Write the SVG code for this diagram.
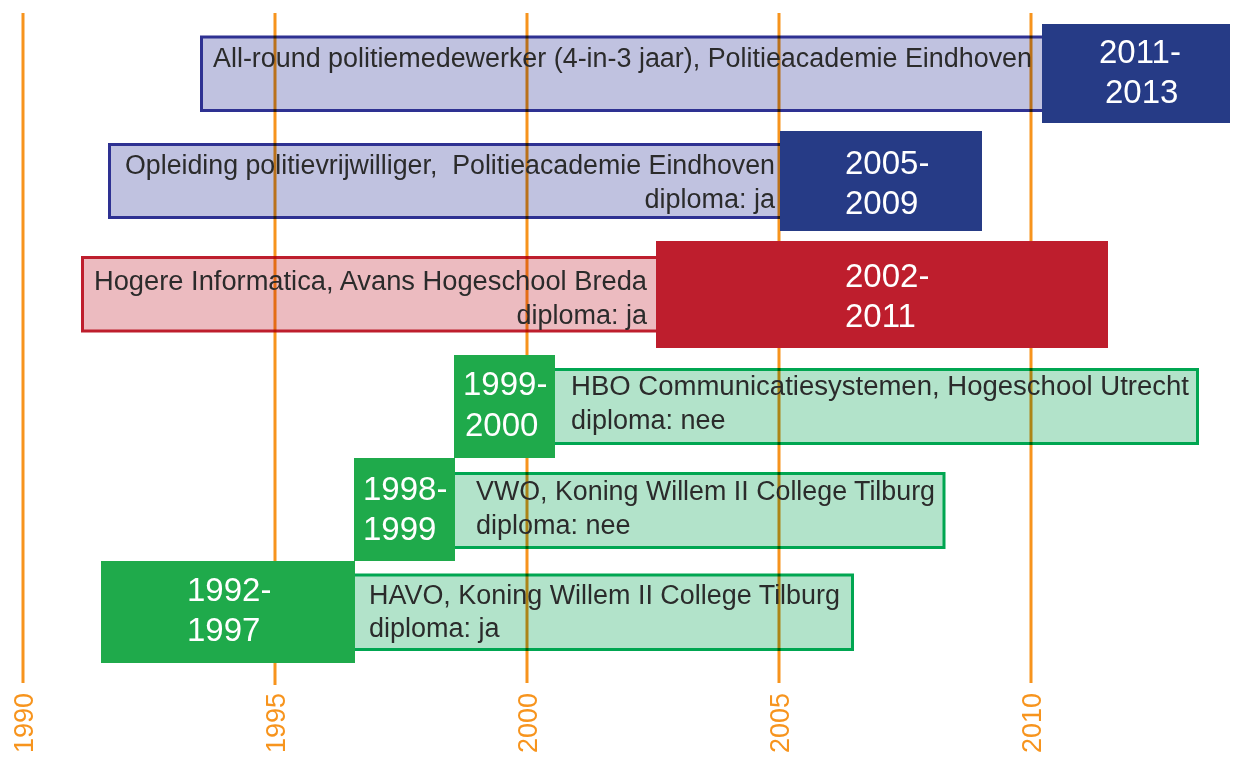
<svg xmlns="http://www.w3.org/2000/svg" width="1245" height="757" viewBox="0 0 1245 757">
<style>
.axis{stroke:#f7941d;stroke-width:3;fill:none}
.yl{font-family:"Liberation Sans",Arial,sans-serif;font-size:27px;fill:#f7941d}
.lt{font-family:"Liberation Sans",Arial,sans-serif;font-size:27px;fill:#2b2b2b}
.dk{font-family:"Liberation Sans",Arial,sans-serif;font-size:33px;fill:#ffffff}
.lb{fill:#c0c2e0;stroke:#2e3192;stroke-width:3;mix-blend-mode:multiply}
.lr{fill:#ecbbc0;stroke:#be1e2d;stroke-width:3;mix-blend-mode:multiply}
.lg{fill:#b2e3ca;stroke:#00a651;stroke-width:3;mix-blend-mode:multiply}
.db{fill:#263b86}
.dr{fill:#be1e2d}
.dg{fill:#1faa4b}
</style>
<rect width="1245" height="757" fill="#ffffff"/>
<g id="axis">
<line class="axis" x1="23" y1="13" x2="23" y2="683"/>
<line class="axis" x1="275" y1="13" x2="275" y2="685"/>
<line class="axis" x1="527" y1="13" x2="527" y2="683"/>
<line class="axis" x1="779" y1="13" x2="779" y2="683"/>
<line class="axis" x1="1031" y1="13" x2="1031" y2="683"/>
<text class="yl" text-anchor="end" transform="translate(33,693) rotate(-90)">1990</text>
<text class="yl" text-anchor="end" transform="translate(285,693) rotate(-90)">1995</text>
<text class="yl" text-anchor="end" transform="translate(537,693) rotate(-90)">2000</text>
<text class="yl" text-anchor="end" transform="translate(789,693) rotate(-90)">2005</text>
<text class="yl" text-anchor="end" transform="translate(1041,693) rotate(-90)">2010</text>
</g>
<g id="connectors"></g>
<g id="node-allround">
<rect class="lb" x="201.5" y="37" width="845" height="73.5"/>
<text class="lt" x="213" y="67" textLength="819" lengthAdjust="spacingAndGlyphs">All-round politiemedewerker (4-in-3 jaar), Politieacademie Eindhoven</text>
<rect class="db" x="1042" y="24" width="188" height="99"/>
<text class="dk" x="1099" y="63">2011-</text>
<text class="dk" x="1105" y="103">2013</text>
</g>
<g id="node-opleiding">
<rect class="lb" x="109.5" y="144.5" width="676" height="73"/>
<text class="lt" x="775" y="174" text-anchor="end" xml:space="preserve" textLength="650" lengthAdjust="spacingAndGlyphs">Opleiding politievrijwilliger,  Politieacademie Eindhoven</text>
<text class="lt" x="775" y="208" text-anchor="end">diploma: ja</text>
<rect class="db" x="780" y="131" width="202" height="100"/>
<text class="dk" x="845" y="174">2005-</text>
<text class="dk" x="845" y="214">2009</text>
</g>
<g id="node-hogere">
<rect class="lr" x="82.5" y="257.5" width="580" height="73.5"/>
<text class="lt" x="647" y="290" text-anchor="end" textLength="553" lengthAdjust="spacingAndGlyphs">Hogere Informatica, Avans Hogeschool Breda</text>
<text class="lt" x="647" y="324" text-anchor="end">diploma: ja</text>
<rect class="dr" x="656" y="241" width="452" height="107"/>
<text class="dk" x="845" y="287">2002-</text>
<text class="dk" x="845" y="327">2011</text>
</g>
<g id="node-hbo">
<rect class="lg" x="550" y="369.5" width="647.5" height="74"/>
<text class="lt" x="571" y="395" textLength="618" lengthAdjust="spacingAndGlyphs">HBO Communicatiesystemen, Hogeschool Utrecht</text>
<text class="lt" x="571" y="429">diploma: nee</text>
<rect class="dg" x="454" y="355" width="101" height="103"/>
<text class="dk" x="463" y="395">1999-</text>
<text class="dk" x="465" y="436">2000</text>
</g>
<g id="node-vwo">
<rect class="lg" x="450" y="473.5" width="494" height="74"/>
<text class="lt" x="476" y="500" textLength="459" lengthAdjust="spacingAndGlyphs">VWO, Koning Willem II College Tilburg</text>
<text class="lt" x="476" y="534">diploma: nee</text>
<rect class="dg" x="354" y="458" width="101" height="103"/>
<text class="dk" x="363" y="500">1998-</text>
<text class="dk" x="363" y="540">1999</text>
</g>
<g id="node-havo">
<rect class="lg" x="350" y="575" width="502.5" height="74.5"/>
<text class="lt" x="369" y="604" textLength="471" lengthAdjust="spacingAndGlyphs">HAVO, Koning Willem II College Tilburg</text>
<text class="lt" x="369" y="637">diploma: ja</text>
<rect class="dg" x="101" y="561" width="254" height="102"/>
<text class="dk" x="187" y="601">1992-</text>
<text class="dk" x="187" y="641">1997</text>
</g>
</svg>
